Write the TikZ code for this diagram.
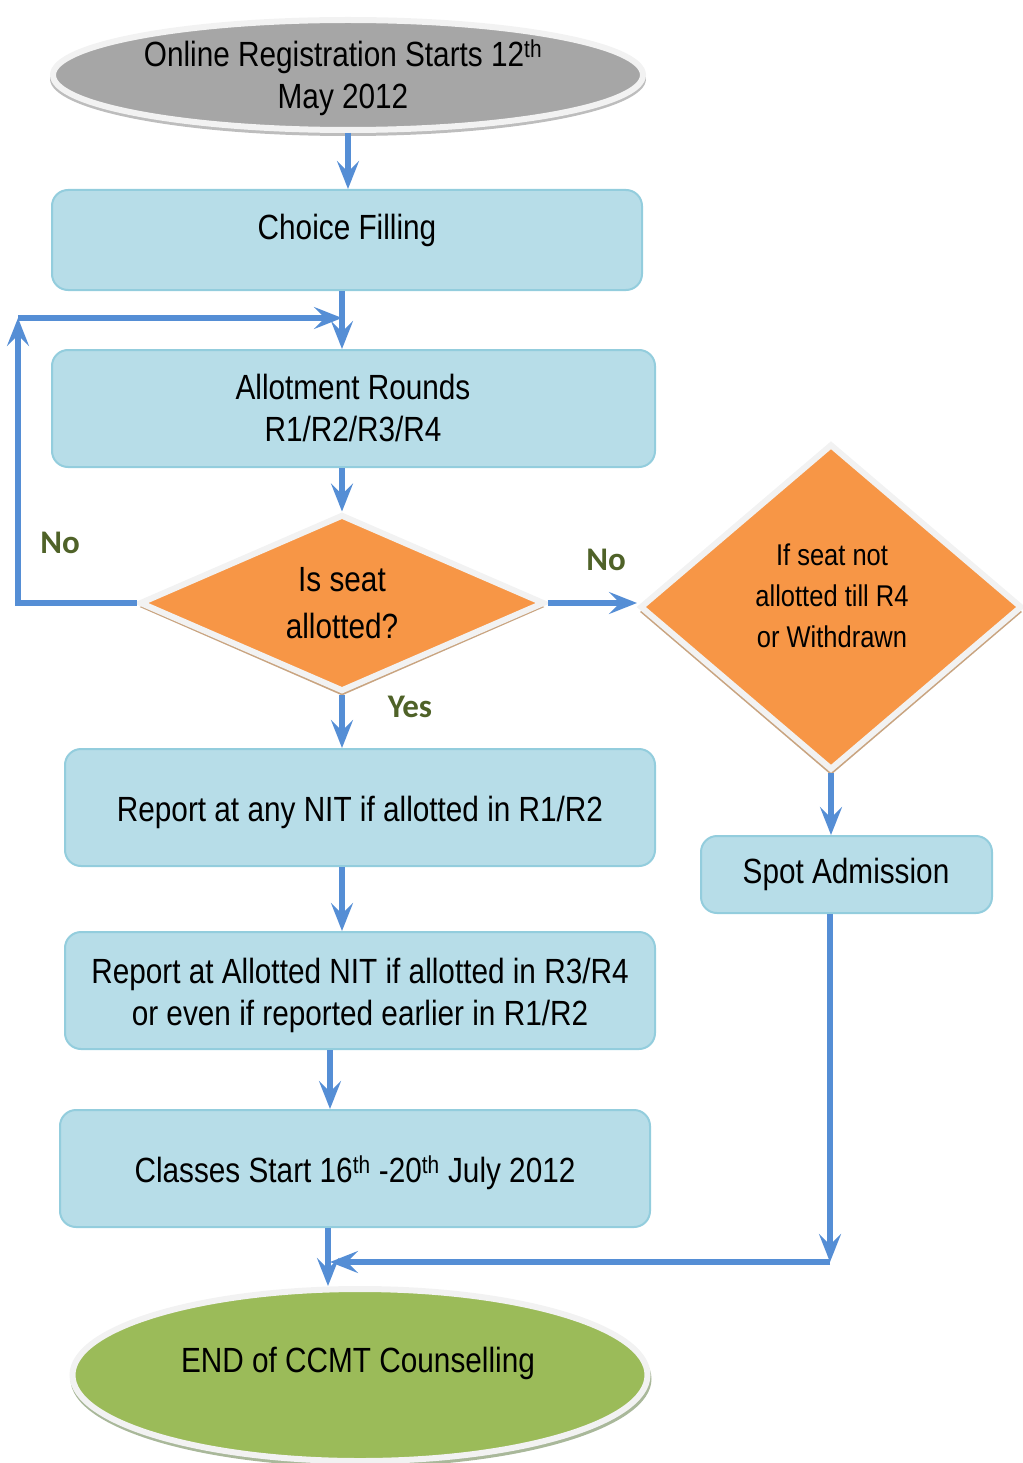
\documentclass[tikz,border=0pt]{standalone}
\usepackage{fontspec}
\setmainfont[FakeStretch=0.85]{Liberation Sans}
\newfontfamily\labelfont{Carlito}
\usetikzlibrary{shapes.geometric,arrows.meta}
\definecolor{boxfill}{HTML}{B7DDE8}
\definecolor{boxline}{HTML}{93CDDD}
\definecolor{arrowblue}{HTML}{558ED5}
\definecolor{orangef}{HTML}{F79646}
\definecolor{grayf}{HTML}{A6A6A6}
\definecolor{greenf}{HTML}{9BBB59}
\definecolor{rimc}{HTML}{F2F2F2}
\definecolor{labgreen}{HTML}{4F6228}
\definecolor{bevelbrown}{HTML}{C9A480}
\definecolor{bevelgray}{HTML}{BDBDBD}
\definecolor{bevelgreen}{HTML}{A9B89A}
\begin{document}
\begin{tikzpicture}[x=1pt,y=-1pt,
  boxnode/.style={draw=boxline, fill=boxfill, line width=2pt, rounded corners=16pt, inner sep=0pt},
  flow/.style={draw=arrowblue, line width=5.5pt, -{Stealth[length=28pt,width=22pt,inset=11pt]}},
  txt/.style={font=\fontsize{35}{42}\selectfont, align=center, inner sep=0pt, yshift=-3pt},
  lab/.style={font=\labelfont\bfseries\fontsize{33}{38}\selectfont, text=labgreen, inner sep=0pt},
  ell/.style={ellipse, draw=rimc, line width=6pt, inner sep=0pt},
  dia/.style={diamond, draw=rimc, line width=6pt, fill=orangef, inner sep=0pt, aspect=2}
]
\useasboundingbox (0,0) rectangle (1022,1463);

% start ellipse
\node[ellipse, fill=bevelgray, minimum width=596pt, minimum height=114pt, inner sep=0pt] (startsh) at (348,79) {};
\node[ell, fill=grayf, minimum width=590pt, minimum height=110pt] (start) at (348,75) {};
\node[txt] (startt) at (343,75) {Online Registration Starts 12\textsuperscript{th}\\May 2012};

% choice filling
\node[boxnode, minimum width=590pt, minimum height=100pt] (choice) at (347,240) {};
\node[txt] (choicet) at (347,227) {Choice Filling};

% allotment
\node[boxnode, minimum width=603pt, minimum height=117pt] (allot) at (353.5,408.5) {};
\node[txt] (allott) at (353,405) {Allotment Rounds\\R1/R2/R3/R4};

% decision 1
\node[diamond, fill=bevelbrown, minimum width=405pt, minimum height=177pt, inner sep=0pt, aspect=2] (dec1sh) at (342,607) {};
\node[dia, minimum width=405pt, minimum height=177pt] (dec1) at (342,603) {};
\node[txt, font=\fontsize{35}{47}\selectfont] (dec1t) at (342,600) {Is seat\\allotted?};

% decision 2
\node[diamond, fill=bevelbrown, minimum width=382pt, minimum height=326pt, inner sep=0pt, aspect=1] (dec2sh) at (831,612) {};
\node[dia, minimum width=382pt, minimum height=326pt, aspect=1] (dec2) at (831,607) {};
\node[txt, font=\fontsize{30}{41}\selectfont] (dec2t) at (832,593) {If seat not\\allotted till R4\\or Withdrawn};

% spot admission
\node[boxnode, minimum width=291pt, minimum height=77pt] (spot) at (846.5,874.5) {};
\node[txt] (spott) at (846,871) {Spot Admission};

% report 1
\node[boxnode, minimum width=590pt, minimum height=117pt] (rep1) at (360,807.5) {};
\node[txt] (rep1t) at (360,809) {Report at any NIT if allotted in R1/R2};

% report 2
\node[boxnode, minimum width=590pt, minimum height=117pt] (rep2) at (360,990.5) {};
\node[txt] (rep2t) at (360,992) {Report at Allotted NIT if allotted in R3/R4\\or even if reported earlier in R1/R2};

% classes
\node[boxnode, minimum width=590pt, minimum height=117pt] (cls) at (355,1168.5) {};
\node[txt] (clst) at (355,1170) {Classes Start 16\textsuperscript{th} -20\textsuperscript{th} July 2012};

% end ellipse
\node[ellipse, fill=bevelgreen, minimum width=581pt, minimum height=176pt, inner sep=0pt] (endsh) at (361,1379) {};
\node[ell, fill=greenf, minimum width=575pt, minimum height=172pt] (end) at (360,1375) {};
\node[txt] (endt) at (358,1360) {END of CCMT Counselling};

% labels
\node[lab] (no1) at (60,543) {No};
\node[lab] (no2) at (606,560) {No};
\node[lab] (yes) at (410,707) {Yes};

% coordinates
\coordinate (lp1) at (18,603);
\coordinate (lp2) at (18,318);
\coordinate (lp3) at (342,318);
\coordinate (sp1) at (830,1262);
\coordinate (mj) at (330,1262);

% connectors
\draw[flow] (start.south) -- (start.south |- choice.north);
\draw[flow] (choice.south -| dec1.north) -- (allot.north -| dec1.north);
\draw[flow] (allot.south -| dec1.north) -- (dec1.north);
\draw[flow] (dec1.west) -- (lp1) -- (lp2);
\draw[flow] (lp2) -- (lp3);
\draw[flow] (dec1.east) -- (dec1.east -| dec2.west);
\draw[flow] (dec2.south) -- (dec2.south |- spot.north);
\draw[flow] (spot.south -| sp1) -- (sp1);
\draw[flow] (sp1) -- (mj);
\draw[flow] (dec1.south) -- (dec1.south |- rep1.north);
\draw[flow] (rep1.south -| dec1.south) -- (rep2.north -| dec1.south);
\draw[flow] (rep2.south -| mj) -- (cls.north -| mj);
\draw[flow] ([xshift=-2pt]cls.south -| mj) -- ([xshift=-2pt]end.north -| mj);
\end{tikzpicture}
\end{document}
